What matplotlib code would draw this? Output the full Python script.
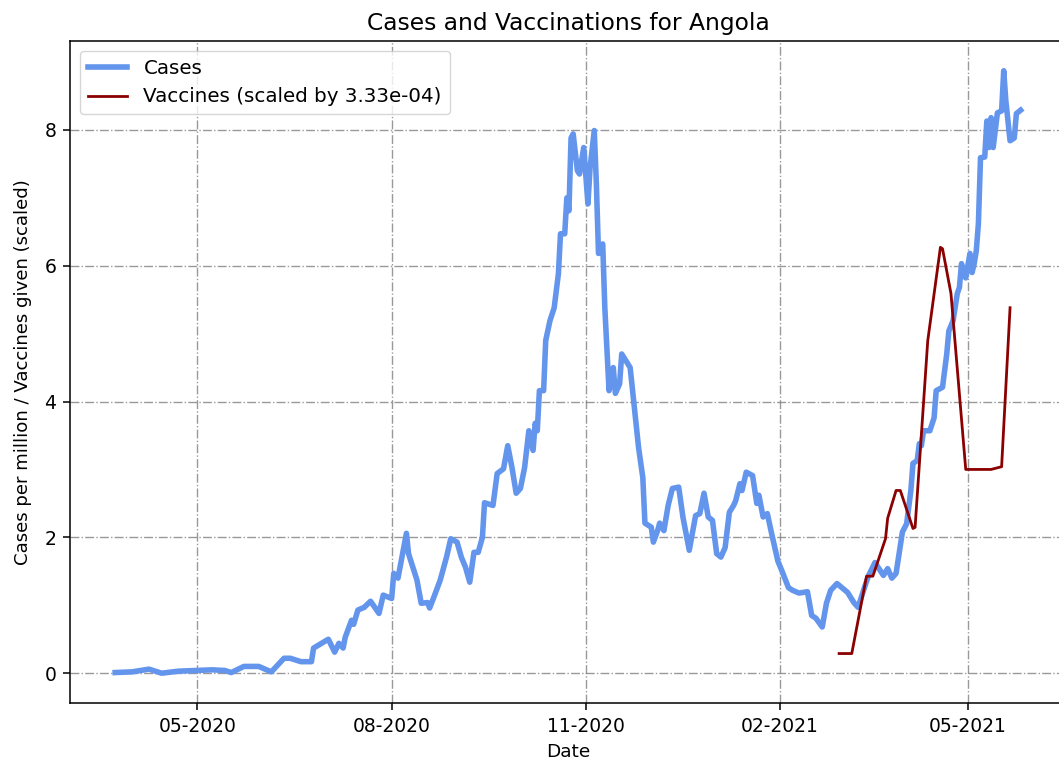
import numpy as np
import pandas as pd
import matplotlib
matplotlib.use("Agg")
import matplotlib.pyplot as plt
import matplotlib.dates as mdates

# Casos por millon (media movil)
fechas_casos = [
    "2020-03-23", "2020-03-31", "2020-04-08", "2020-04-14", "2020-04-22", "2020-04-30",
    "2020-05-08", "2020-05-14", "2020-05-17", "2020-05-23", "2020-05-30", "2020-06-05",
    "2020-06-11", "2020-06-14", "2020-06-19", "2020-06-24", "2020-06-25", "2020-07-02",
    "2020-07-05", "2020-07-07", "2020-07-09", "2020-07-10", "2020-07-13", "2020-07-14",
    "2020-07-16", "2020-07-19", "2020-07-22", "2020-07-26", "2020-07-28", "2020-08-01",
    "2020-08-02", "2020-08-04", "2020-08-08", "2020-08-09", "2020-08-13", "2020-08-15",
    "2020-08-18", "2020-08-19", "2020-08-21", "2020-08-24", "2020-08-27", "2020-08-29",
    "2020-09-01", "2020-09-03", "2020-09-05", "2020-09-07", "2020-09-09", "2020-09-11",
    "2020-09-13", "2020-09-14", "2020-09-18", "2020-09-20", "2020-09-23", "2020-09-25",
    "2020-09-27", "2020-09-29", "2020-10-01", "2020-10-03", "2020-10-05", "2020-10-07",
    "2020-10-08", "2020-10-09", "2020-10-10", "2020-10-12", "2020-10-13", "2020-10-15",
    "2020-10-17", "2020-10-19", "2020-10-20", "2020-10-22", "2020-10-23", "2020-10-24",
    "2020-10-25", "2020-10-26", "2020-10-28", "2020-10-29", "2020-10-31", "2020-11-02",
    "2020-11-03", "2020-11-05", "2020-11-06", "2020-11-07", "2020-11-09", "2020-11-10",
    "2020-11-12", "2020-11-14", "2020-11-15", "2020-11-17", "2020-11-18", "2020-11-22",
    "2020-11-24", "2020-11-26", "2020-11-28", "2020-11-29", "2020-12-02", "2020-12-03",
    "2020-12-05", "2020-12-06", "2020-12-08", "2020-12-10", "2020-12-12", "2020-12-15",
    "2020-12-17", "2020-12-20", "2020-12-23", "2020-12-25", "2020-12-27", "2020-12-29",
    "2020-12-31", "2021-01-02", "2021-01-04", "2021-01-06", "2021-01-08", "2021-01-10",
    "2021-01-11", "2021-01-13", "2021-01-14", "2021-01-16", "2021-01-19", "2021-01-21",
    "2021-01-22", "2021-01-24", "2021-01-26", "2021-01-28", "2021-01-31", "2021-02-02",
    "2021-02-05", "2021-02-07", "2021-02-10", "2021-02-14", "2021-02-16", "2021-02-18",
    "2021-02-21", "2021-02-23", "2021-02-25", "2021-02-28", "2021-03-05", "2021-03-08",
    "2021-03-10", "2021-03-13", "2021-03-15", "2021-03-18", "2021-03-22", "2021-03-24",
    "2021-03-26", "2021-03-28", "2021-03-31", "2021-04-02", "2021-04-04", "2021-04-05",
    "2021-04-07", "2021-04-08", "2021-04-09", "2021-04-10", "2021-04-13", "2021-04-15",
    "2021-04-16", "2021-04-19", "2021-04-20", "2021-04-21", "2021-04-22", "2021-04-24",
    "2021-04-26", "2021-04-27", "2021-04-28", "2021-04-30", "2021-05-02", "2021-05-03",
    "2021-05-04", "2021-05-05", "2021-05-06", "2021-05-07", "2021-05-09", "2021-05-10",
    "2021-05-11", "2021-05-12", "2021-05-13", "2021-05-15", "2021-05-17", "2021-05-18",
    "2021-05-19", "2021-05-21", "2021-05-23", "2021-05-24", "2021-05-26",
]
casos = [
    0.01, 0.02, 0.06, 0.00, 0.03, 0.04,
    0.05, 0.04, 0.01, 0.10, 0.10, 0.02,
    0.22, 0.22, 0.17, 0.17, 0.37, 0.50,
    0.31, 0.44, 0.37, 0.53, 0.78, 0.72,
    0.93, 0.97, 1.06, 0.88, 1.15, 1.10,
    1.47, 1.40, 2.06, 1.76, 1.37, 1.03,
    1.04, 0.96, 1.12, 1.37, 1.71, 1.98,
    1.93, 1.71, 1.56, 1.34, 1.78, 1.78,
    2.00, 2.51, 2.47, 2.94, 3.01, 3.35,
    3.03, 2.65, 2.72, 3.03, 3.57, 3.28,
    3.68, 3.57, 4.16, 4.16, 4.90, 5.19,
    5.38, 5.88, 6.47, 6.47, 7.00, 6.81,
    7.88, 7.94, 7.40, 7.35, 7.74, 6.91,
    7.44, 7.99, 7.20, 6.18, 6.32, 5.38,
    4.16, 4.50, 4.12, 4.26, 4.70, 4.50,
    3.91, 3.32, 2.88, 2.21, 2.15, 1.93,
    2.10, 2.21, 2.10, 2.47, 2.72, 2.74,
    2.30, 1.81, 2.32, 2.35, 2.65, 2.30,
    2.25, 1.76, 1.71, 1.85, 2.37, 2.47,
    2.54, 2.79, 2.69, 2.96, 2.91, 2.50,
    2.62, 2.30, 2.35, 2.06, 1.65, 1.50,
    1.26, 1.22, 1.18, 1.20, 0.85, 0.81,
    0.68, 1.03, 1.22, 1.32, 1.19, 1.04,
    0.97, 1.26, 1.44, 1.63, 1.44, 1.54,
    1.40, 1.47, 2.08, 2.20, 2.69, 3.09,
    3.13, 3.38, 3.35, 3.57, 3.57, 3.76,
    4.16, 4.21, 4.46, 4.70, 5.04, 5.19,
    5.59, 5.68, 6.03, 5.82, 6.18, 5.90,
    6.03, 6.22, 6.62, 7.59, 7.60, 8.13,
    7.74, 8.18, 7.74, 8.25, 8.28, 8.87,
    8.43, 7.84, 7.88, 8.24, 8.29,
]

# Vacunas administradas (sin escalar)
fechas_vacunas = [
    "2021-03-01", "2021-03-07", "2021-03-14", "2021-03-17", "2021-03-23", "2021-03-24",
    "2021-03-28", "2021-03-30", "2021-04-05", "2021-04-06", "2021-04-12", "2021-04-18",
    "2021-04-19", "2021-04-23", "2021-04-30", "2021-05-12", "2021-05-17", "2021-05-21",
]
vacunas = [
    870, 870, 4290, 4290, 5950, 6850,
    8080, 8080, 6400, 6450, 14700, 18830,
    18770, 16790, 9010, 9010, 9130, 16160,
]
escala = 3.33e-4

fechas_casos = pd.to_datetime(fechas_casos)
fechas_vacunas = pd.to_datetime(fechas_vacunas)
vacunas_esc = np.array(vacunas) * escala

fig = plt.figure(figsize=(10.59, 7.67), dpi=100)
# el eje derecho queda fuera de la imagen, como en el original
ax = fig.add_axes([0.066, 0.083, 0.9405, 0.864])

ax.plot(fechas_casos, casos, color="cornflowerblue", lw=4, label="Cases")
ax.plot(fechas_vacunas, vacunas_esc, color="darkred", lw=2,
        label=f"Vaccines (scaled by {escala:.2e})")

ax.xaxis.set_major_locator(mdates.MonthLocator(bymonth=[2, 5, 8, 11]))
ax.xaxis.set_major_formatter(mdates.DateFormatter("%m-%Y"))
ax.set_yticks([0, 2, 4, 6, 8])

for s in ax.spines.values():
    s.set_linewidth(1.1)
ax.grid(True, linestyle="-.", color="grey", alpha=0.8, lw=1.0)
ax.legend(loc="upper left", fontsize=14.3)
ax.set_title("Cases and Vaccinations for Angola", fontsize=16.8, pad=8)
ax.set_xlabel("Date", fontsize=13.3, labelpad=5)
ax.set_ylabel("Cases per million / Vaccines given (scaled)", fontsize=13.1, labelpad=9)
ax.tick_params(labelsize=13.5, length=4.8, width=1.1, pad=4.8)

fig.savefig("out.png", dpi=100)
